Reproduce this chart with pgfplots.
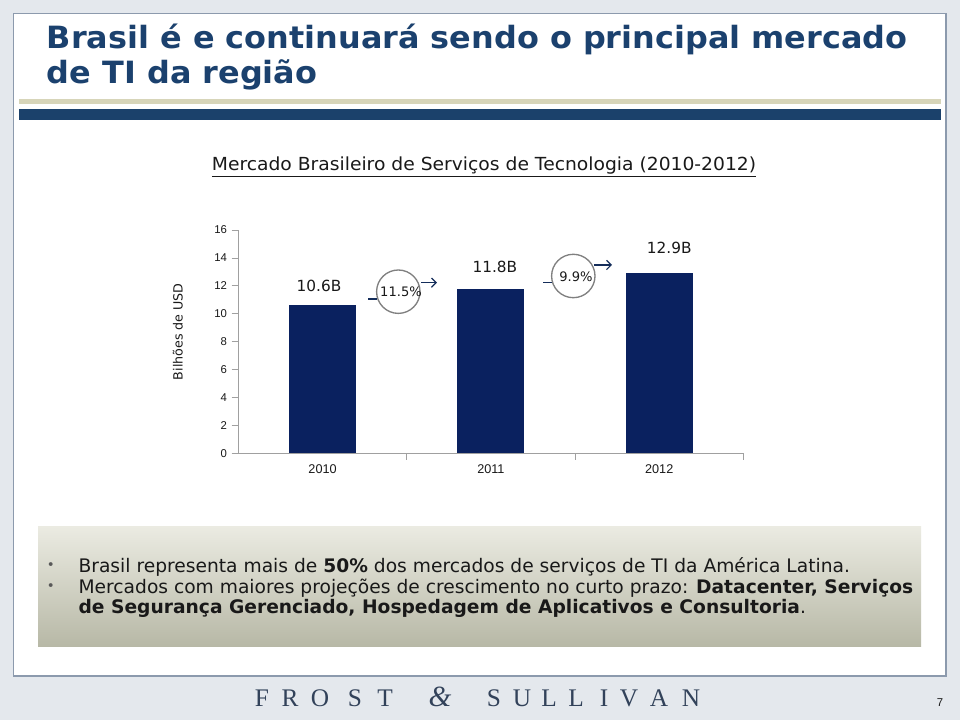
\documentclass[border=0pt]{standalone}
\usepackage{pgfplots}
\pgfplotsset{compat=1.18}
\usepackage{fontspec}
\setmainfont{DejaVu Sans}
\newfontfamily\titlefont[FakeStretch=1.04]{DejaVu Sans}
\newfontfamily\arial{Liberation Sans}
\newfontfamily\fsserif{Liberation Serif}
\usetikzlibrary{arrows.meta}
\definecolor{bgout}{RGB}{228,232,237}
\definecolor{panelborder}{RGB}{140,154,173}
\definecolor{titleblue}{RGB}{27,65,110}
\definecolor{khaki}{RGB}{215,213,185}
\definecolor{navybar}{RGB}{27,65,107}
\definecolor{barfill}{RGB}{10,33,95}
\definecolor{boxtop}{RGB}{235,235,226}
\definecolor{boxbot}{RGB}{183,184,166}
\definecolor{footer}{RGB}{50,66,90}
\definecolor{axisgray}{RGB}{160,160,160}
\definecolor{circgray}{RGB}{128,128,128}
\definecolor{arrowblue}{RGB}{20,45,90}
\definecolor{txt}{RGB}{25,25,25}
\begin{document}
\begin{tikzpicture}
\begin{scope}[x=0.75pt,y=-0.75pt,shift={(0pt,540pt)}]
  \fill[bgout] (0,0) rectangle (960,720);
  \fill[white, draw=panelborder, line width=1.1pt] (13.5,13.5) rectangle (946,676);
  \fill[khaki] (18.5,98.7) rectangle (941,103.7);
  \fill[navybar] (18.5,109) rectangle (941,120);
  \node[anchor=base west, inner sep=0pt, text=titleblue, font=\titlefont\fontsize{23}{26}\selectfont\bfseries] at (46.7,48.3) {Brasil é e continuará sendo o principal mercado};
  \node[anchor=base west, inner sep=0pt, text=titleblue, font=\titlefont\fontsize{23}{26}\selectfont\bfseries] at (46.7,83.3) {de TI da região};
  \node[anchor=base, inner sep=0pt, text=txt, font=\titlefont\fontsize{13.5}{15}\selectfont] at (484,170.7) {\underline{Mercado Brasileiro de Serviços de Tecnologia (2010-2012)}};
  \node[rotate=90, anchor=center, inner sep=0pt, text=txt, font=\fontsize{9.5}{11}\selectfont] at (177.7,331.7) {Bilhões de USD};
  % growth annotations
  \draw[arrowblue, line width=0.9pt] (368,299) -- (377,299);
  \draw[circgray, line width=1pt] (398.3,291.7) circle[radius=21.7];
  \draw[arrowblue, line width=0.9pt, -{Straight Barb[length=3.5pt,width=7pt]}] (421,282.7) -- (437,282.7);
  \node[anchor=center, inner sep=0pt, text=txt, font=\fontsize{9.8}{11}\selectfont] at (401,292) {11.5\%};
  \draw[arrowblue, line width=0.9pt] (543,282.7) -- (552,282.7);
  \draw[circgray, line width=1pt] (573.3,276) circle[radius=21.7];
  \draw[arrowblue, line width=0.9pt, -{Straight Barb[length=3.5pt,width=7pt]}] (594,265) -- (612,265);
  \node[anchor=center, inner sep=0pt, text=txt, font=\fontsize{9.8}{11}\selectfont] at (576,276.5) {9.9\%};
  % bullet box
  \shade[top color=boxtop, bottom color=boxbot] (38,526.7) rectangle (921,646.7);
  \node[anchor=center, inner sep=0pt, text=black!65] at (50.7,566) {\fontsize{10}{10}\selectfont •};
  \node[anchor=center, inner sep=0pt, text=black!65] at (50.7,587) {\fontsize{10}{10}\selectfont •};
  \node[anchor=base west, inner sep=0pt, text=txt, font=\fontsize{14}{16}\selectfont] at (78.3,572.3) {Brasil representa mais de \textbf{50\%} dos mercados de serviços de TI da América Latina.};
  \node[anchor=base west, inner sep=0pt, text=txt, font=\fontsize{14}{16}\selectfont] at (78.3,593.3) {Mercados com maiores projeções de crescimento no curto prazo: \textbf{Datacenter, Serviços}};
  \node[anchor=base west, inner sep=0pt, text=txt, font=\fontsize{14}{16}\selectfont] at (78.3,614) {\textbf{de Segurança Gerenciado, Hospedagem de Aplicativos e Consultoria}.};
  % footer
  \foreach \x/\l in {262/F,290/R,320/O,355/S,385/T,494/S,522/U,549/L,576/L,604/I,629/V,659/A,691/N}
    \node[anchor=base, inner sep=0pt, text=footer, font=\fsserif\fontsize{19}{20}\selectfont] at (\x,706.7) {\l};
  \node[anchor=base, inner sep=0pt, text=footer, font=\fsserif\itshape\fontsize{22}{22}\selectfont] at (440,706.7) {\&};
  \node[anchor=base, inner sep=0pt, text=txt, font=\arial\fontsize{8.5}{9}\selectfont] at (940,707) {7};
\end{scope}
\begin{axis}[
  at={(178.8pt,200pt)}, anchor=south west,
  scale only axis, width=378.75pt, height=167.5pt,
  xmin=-0.5, xmax=2.5, ymin=0, ymax=16,
  axis x line*=bottom, axis y line*=left,
  axis line style={axisgray, line width=0.6pt, -},
  ytick={0,2,...,16},
  xtick={0.5,1.5,2.5}, xticklabels={},
  extra x ticks={0,1,2}, extra x tick labels={2010,2011,2012},
  extra x tick style={major tick length=0pt, grid=none, xticklabel style={yshift=-5pt}},
  tick align=outside, major tick length=5pt,
  tick style={axisgray, line width=0.6pt},
  yticklabel style={font=\arial\fontsize{8.5}{9}\selectfont, text=txt},
  xticklabel style={font=\arial\fontsize{9.5}{10}\selectfont, text=txt},
  /pgf/number format/assume math mode=true,
  ybar, bar width=50.25pt, bar shift=0pt,
  point meta=explicit symbolic,
  nodes near coords,
]
\addplot[fill=barfill, draw=none, every node near coord/.append style={font=\fontsize{11.5}{12}\selectfont, text=txt, anchor=base, yshift=10.35pt, xshift=-2.7pt}] coordinates {(0,10.6) [10.6B]};
\addplot[fill=barfill, draw=none, every node near coord/.append style={font=\fontsize{11.5}{12}\selectfont, text=txt, anchor=base, yshift=12.45pt, xshift=3pt}] coordinates {(1,11.8) [11.8B]};
\addplot[fill=barfill, draw=none, every node near coord/.append style={font=\fontsize{11.5}{12}\selectfont, text=txt, anchor=base, yshift=14.5pt, xshift=7.5pt}] coordinates {(2,12.9) [12.9B]};
\end{axis}
\pgfresetboundingbox
\useasboundingbox (0,0) rectangle (720pt,540pt);
\end{tikzpicture}
\end{document}
